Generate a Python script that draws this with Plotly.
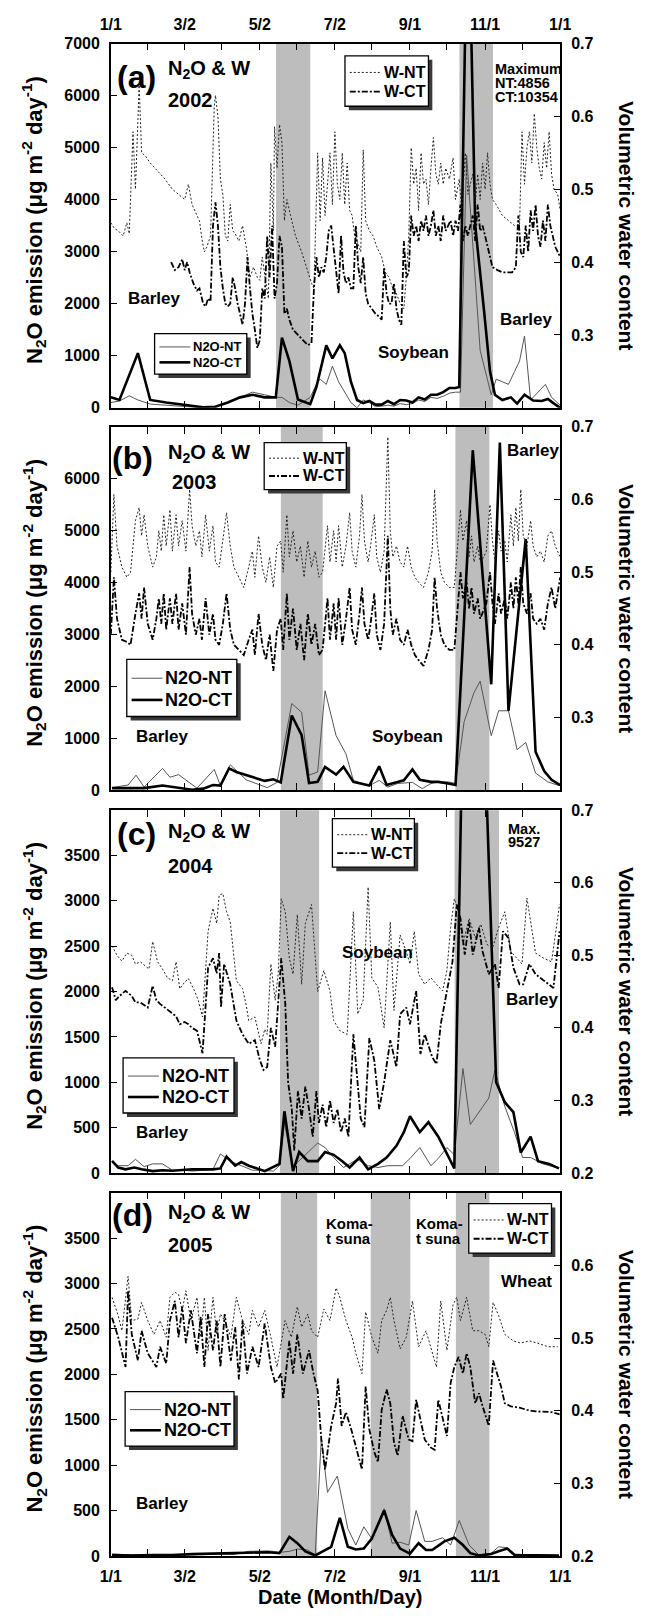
import plotly.graph_objects as go

# ---------------- data (day of year, 0 = Jan 1) ----------------
# Panel (a) 2002
a_wnt_days = [0,3,6,10,13,15,18,20,23,25,28,32,38,44,50,55,60,63,66,70,72,74,76,78,81,84,85,87,89,91,93,95,97,99,101,104,107,110,113,116,119,121,123,126,128,130,132,133,135,137,139,141,143,146,150,155,160,163,165,168,170,172,174,176,178,180,182,184,186,188,190,192,194,196,198,200,203,205,207,210,213,216,220,223,226,229,232,235,238,240,242,244,246,248,250,252,254,256,258,260,262,264,266,268,270,272,275,278,280,283,285,288,290,292,294,296,298,300,302,304,306,308,310,313,318,323,328,332,334,336,338,340,342,344,346,348,350,352,354,356,358,360,363,365]
a_wnt = [0.454,0.446,0.443,0.436,0.454,0.439,0.579,0.500,0.643,0.550,0.546,0.536,0.525,0.514,0.500,0.493,0.486,0.507,0.479,0.464,0.457,0.432,0.414,0.421,0.436,0.614,0.629,0.600,0.514,0.493,0.436,0.429,0.479,0.443,0.439,0.429,0.450,0.421,0.379,0.393,0.379,0.375,0.407,0.371,0.350,0.536,0.443,0.586,0.529,0.589,0.564,0.457,0.486,0.464,0.436,0.414,0.386,0.371,0.364,0.550,0.457,0.543,0.464,0.514,0.550,0.479,0.579,0.507,0.486,0.550,0.479,0.536,0.471,0.464,0.436,0.429,0.414,0.554,0.457,0.443,0.436,0.421,0.407,0.386,0.379,0.364,0.357,0.343,0.336,0.379,0.436,0.557,0.507,0.529,0.471,0.550,0.507,0.514,0.479,0.529,0.571,0.521,0.507,0.536,0.507,0.529,0.514,0.543,0.486,0.514,0.471,0.550,0.493,0.507,0.521,0.479,0.521,0.486,0.536,0.500,0.550,0.507,0.486,0.479,0.464,0.457,0.450,0.450,0.579,0.507,0.557,0.579,0.536,0.604,0.557,0.529,0.514,0.564,0.529,0.579,0.521,0.500,0.493,0.471]
a_wct_days = [49,52,55,58,60,62,64,67,70,72,75,77,79,81,83,84,85,87,89,91,93,95,97,99,101,103,105,107,109,111,113,115,117,119,121,123,125,127,129,131,133,135,137,139,141,143,145,148,152,156,160,163,165,167,169,171,173,175,177,179,181,183,185,187,189,191,193,195,197,199,201,203,205,207,209,212,215,218,220,222,224,226,228,230,232,234,236,238,240,242,244,246,248,250,252,254,256,258,260,262,264,266,268,270,272,274,276,278,280,282,284,286,288,290,292,294,296,298,300,302,304,306,308,310,314,318,322,326,329,331,333,335,337,339,341,343,345,347,349,351,353,355,357,359,361,363,365]
a_wct = [0.400,0.389,0.393,0.404,0.389,0.400,0.386,0.371,0.361,0.364,0.343,0.339,0.350,0.346,0.450,0.471,0.482,0.450,0.393,0.364,0.343,0.339,0.343,0.379,0.364,0.343,0.329,0.314,0.343,0.407,0.364,0.329,0.307,0.282,0.293,0.364,0.350,0.436,0.379,0.450,0.350,0.371,0.436,0.421,0.329,0.336,0.321,0.307,0.300,0.293,0.286,0.289,0.364,0.407,0.379,0.393,0.386,0.407,0.443,0.450,0.421,0.386,0.357,0.436,0.386,0.371,0.379,0.364,0.364,0.450,0.393,0.371,0.407,0.357,0.343,0.336,0.329,0.325,0.321,0.393,0.357,0.343,0.343,0.371,0.336,0.321,0.314,0.429,0.379,0.386,0.464,0.436,0.450,0.429,0.457,0.443,0.464,0.436,0.450,0.471,0.436,0.450,0.429,0.464,0.443,0.450,0.457,0.436,0.457,0.443,0.479,0.429,0.450,0.436,0.450,0.464,0.429,0.479,0.443,0.450,0.436,0.421,0.407,0.393,0.389,0.386,0.386,0.386,0.393,0.464,0.414,0.407,0.450,0.414,0.471,0.443,0.479,0.436,0.421,0.457,0.429,0.479,0.450,0.436,0.421,0.414,0.407]
a_nt_days = [0,7,15,22,32,45,60,75,85,95,105,115,125,134,139,145,152,162,167,170,175,180,185,190,195,200,205,210,215,220,225,230,235,240,245,250,255,260,265,270,275,280,284,289,300,309,313,318,323,328,332,336,341,347,353,358,365]
a_nt = [100,130,230,150,70,50,30,0,30,100,200,300,250,200,200,100,50,200,450,550,450,800,500,300,100,0,150,100,20,30,50,30,80,60,80,150,120,200,180,220,280,300,300,4856,1100,250,550,500,450,700,900,1380,150,300,450,200,50]
a_ct_days = [0,7,22,32,45,60,75,85,95,105,115,125,134,139,145,152,162,167,175,180,186,190,195,200,205,210,215,220,225,230,235,240,245,250,255,260,265,270,275,280,283,290,296,303,308,312,318,325,330,336,343,350,355,360,365]
a_ct = [200,150,1050,150,100,60,10,20,100,200,250,200,200,1350,900,160,70,400,1200,950,1200,1050,500,150,90,130,60,60,130,70,150,140,100,200,160,250,250,300,380,380,400,10354,3500,1900,700,250,150,200,80,250,140,130,170,80,0]

# Panel (b) 2003
b_w_days = [0,2.5,5,9,13,16,20,23,25,27,30,34,37,39,41,43,45,48,50,53,55,58,61,64,66,69,72,74,77,80,83,85,88,91,94,97,100,104,108,112,115,117,120,123,126,129,132,135,138,140,143,145,148,151,154,157,160,163,166,169,172,176,178,181,183,185,188,191,194,196,199,202,204,206,209,211,214,216,219,222,225,227,229,232,235,238,241,244,247,250,254,258,261,263,265,268,271,275,279,282,284,286,289,291,293,295,298,300,303,305,308,310,312,315,317,320,322,325,327,329,331,333,335,338,341,343,346,349,352,355,358,361,365]
b_wnt = [0.500,0.607,0.536,0.507,0.493,0.500,0.571,0.589,0.550,0.579,0.536,0.507,0.521,0.557,0.529,0.579,0.536,0.586,0.529,0.579,0.536,0.571,0.529,0.614,0.564,0.536,0.557,0.521,0.579,0.529,0.564,0.514,0.507,0.543,0.582,0.536,0.507,0.493,0.479,0.507,0.529,0.493,0.550,0.507,0.486,0.521,0.479,0.536,0.543,0.500,0.579,0.521,0.557,0.514,0.536,0.493,0.543,0.507,0.529,0.493,0.500,0.564,0.514,0.557,0.514,0.564,0.507,0.536,0.582,0.529,0.507,0.550,0.607,0.543,0.514,0.536,0.579,0.521,0.500,0.529,0.686,0.557,0.521,0.536,0.514,0.507,0.536,0.507,0.493,0.486,0.479,0.500,0.529,0.614,0.543,0.500,0.486,0.479,0.479,0.543,0.586,0.543,0.571,0.521,0.550,0.514,0.536,0.514,0.521,0.529,0.593,0.543,0.514,0.557,0.529,0.543,0.514,0.579,0.536,0.589,0.543,0.614,0.550,0.536,0.571,0.536,0.521,0.529,0.514,0.550,0.557,0.536,0.521]
b_wct = [0.414,0.493,0.436,0.407,0.404,0.400,0.443,0.471,0.436,0.479,0.429,0.407,0.436,0.464,0.429,0.471,0.421,0.464,0.429,0.471,0.421,0.457,0.414,0.507,0.443,0.414,0.436,0.407,0.464,0.414,0.443,0.407,0.400,0.429,0.471,0.421,0.400,0.393,0.386,0.407,0.421,0.386,0.443,0.400,0.379,0.414,0.364,0.421,0.436,0.393,0.471,0.407,0.450,0.393,0.429,0.379,0.443,0.400,0.429,0.386,0.393,0.464,0.407,0.457,0.407,0.464,0.400,0.436,0.479,0.421,0.400,0.443,0.479,0.429,0.407,0.429,0.471,0.414,0.393,0.429,0.550,0.450,0.414,0.436,0.407,0.400,0.421,0.400,0.386,0.379,0.371,0.393,0.421,0.493,0.450,0.414,0.400,0.393,0.393,0.457,0.500,0.464,0.486,0.450,0.479,0.443,0.464,0.436,0.450,0.457,0.500,0.457,0.429,0.471,0.443,0.464,0.436,0.486,0.450,0.493,0.457,0.507,0.457,0.443,0.471,0.436,0.429,0.436,0.421,0.457,0.479,0.450,0.493]
b_nt_days = [1,14,20.5,27,42,48,55,70,84,89,97,110,127,135,147,155,161,168,174,183,191,197,210,218,225,233,245,253,260,266,274,280,287,295,300,309,315,323,330,337,345,355,364]
b_nt = [50,100,290,60,420,250,300,40,400,90,490,200,50,150,1670,1500,290,350,1915,1050,700,190,90,190,60,130,150,30,130,160,160,130,1320,1880,2100,1050,1530,1530,780,920,330,160,90]
b_ct_days = [1,27,42,56,66,75,83,89,96,102,115,125,132,138,147,155,161,168,174,183,189,197,210,218,224,232,238,245,251,260,266,274,280,294,309,316,323,337,345,352,358,365]
b_ct = [40,40,90,40,10,30,100,90,420,350,250,180,210,150,1440,1060,140,160,450,300,450,160,90,460,100,150,190,400,200,160,160,130,100,6550,2040,6700,1530,4840,740,370,200,100]

# Panel (c) 2004
c_wnt_days = [1,5,9,13,17,20,24,28,31,34,38,42,46,50,53,56,60,63,68,71,74.5,79,83,86,88,91,94,97,102,107,110,112,117,122,125,127,130,133.5,136,138.4,141.7,145,148,151.5,155,158,163,168,173,178,181,186,192,197,200.6,205,209,212,217,222,227,230,235,240,243,246.5,250,255,260,264.5,269.5,273,276,279,282.5,286,291,296,300.5,305.5,310,315,320,325,330,334,338,341.5,345,351.5,358,364.5]
c_wnt = [0.513,0.500,0.492,0.503,0.500,0.488,0.491,0.485,0.481,0.519,0.491,0.481,0.469,0.465,0.491,0.454,0.463,0.468,0.451,0.438,0.415,0.533,0.565,0.544,0.583,0.585,0.560,0.546,0.465,0.454,0.431,0.410,0.415,0.378,0.398,0.391,0.488,0.438,0.475,0.578,0.560,0.496,0.474,0.556,0.460,0.544,0.570,0.450,0.479,0.451,0.410,0.396,0.391,0.560,0.419,0.438,0.594,0.469,0.456,0.400,0.546,0.424,0.528,0.505,0.488,0.533,0.474,0.460,0.469,0.460,0.451,0.479,0.538,0.578,0.560,0.515,0.551,0.524,0.543,0.515,0.510,0.538,0.560,0.505,0.496,0.488,0.579,0.538,0.503,0.496,0.491,0.570]
c_wct_days = [1,4,7,12,17,20,24,30,34,37,40,47,50,53,56,60,63,66,70,74.5,79,83,86,88,89.5,92,97,102,107,112,117,121,124,127,130,133.5,138.4,141.7,144,147,149,152,155,158,161,164,167,169,172,175,178,181,184,187,190,193,197,200,203,206,210,214,218,222,227,232,235,240,243,248,251.5,255,261,264.5,268,273,277.5,281,284,287.5,291,294,299,302,307,312,315,318.5,323,327,332,335,340,345,351.5,359.5,364.5]
c_wct = [0.456,0.438,0.444,0.451,0.444,0.435,0.435,0.428,0.458,0.438,0.433,0.424,0.419,0.416,0.405,0.408,0.405,0.400,0.396,0.365,0.483,0.496,0.475,0.503,0.428,0.488,0.460,0.410,0.391,0.378,0.383,0.356,0.342,0.346,0.400,0.374,0.496,0.433,0.325,0.288,0.231,0.313,0.275,0.319,0.288,0.250,0.313,0.269,0.294,0.263,0.300,0.269,0.288,0.256,0.275,0.250,0.391,0.338,0.275,0.263,0.386,0.355,0.288,0.325,0.383,0.346,0.419,0.428,0.405,0.451,0.364,0.391,0.360,0.350,0.405,0.451,0.491,0.570,0.551,0.501,0.546,0.501,0.538,0.505,0.474,0.488,0.455,0.533,0.524,0.483,0.460,0.460,0.488,0.474,0.465,0.455,0.533]
c_nt_days = [1,6,14,20,27,34,42,50,60,66,83,89,97,106,115,122,132,137,141,148,168,174,181,189,200,209,217,225,237,243,251,260,266,273,279,286,292,307,312,320,328,334.5,341,351,364]
c_nt = [116,80,80,150,70,100,100,30,30,20,40,210,130,80,30,30,20,80,550,70,330,280,170,60,150,80,60,80,80,160,280,80,160,280,200,1152,534,825,1135,734,443,170,170,100,50]
c_ct_days = [1,6,12,19,25,34,42,50,66,83,89,94,101,106,112,125,137,141,148,153,160,168,174,181,188,194,202,209,217,224,232,238,243,251,258,266,279,292,313,320,327,333,341,347,356,364]
c_ct = [134,60,40,60,40,20,30,25,40,40,50,180,80,120,80,20,100,680,20,230,130,130,230,200,130,60,170,40,100,170,300,450,625,450,560,400,50,9527,1000,780,670,225,400,130,100,50]

# Panel (d) 2005
d_wnt_days = [1,6,9,14,17,22,25,30,35,40,45,48,52,55,58,61,65,70,73,76,79,83,86,89,92.5,97.5,102,107,112,115,120,125,130,135,141.5,146.6,151.5,155,160,163,168,173,178,183,186,191,196,199,204,207,212,217,220,224,227,230,235,240,245,250,256,261,264.5,268,273,278,281,284,289,294,299,304,307,310.5,315,320,327,333,340,346.5,355,363]
d_wnt = [0.556,0.531,0.510,0.585,0.524,0.526,0.549,0.524,0.505,0.524,0.501,0.556,0.563,0.560,0.538,0.565,0.524,0.556,0.501,0.556,0.483,0.556,0.505,0.533,0.524,0.501,0.556,0.524,0.505,0.538,0.515,0.538,0.501,0.460,0.524,0.501,0.543,0.515,0.533,0.510,0.501,0.540,0.524,0.569,0.556,0.524,0.501,0.479,0.451,0.536,0.501,0.479,0.524,0.538,0.556,0.524,0.485,0.501,0.551,0.488,0.510,0.479,0.460,0.551,0.483,0.546,0.556,0.524,0.556,0.510,0.510,0.505,0.488,0.549,0.531,0.505,0.496,0.493,0.496,0.493,0.488,0.488]
d_wct_days = [1,6,12,14,17,22,25,30,37,40,45,48,52,55,58,61,65,70,73,76,79,83,86,89,92.5,97.5,101,104,107,110.6,115,120,125,130,133.5,138.4,140,143,145,148,151.5,156,161,164.6,168,171,174,179,183,184.5,187.5,191,196,201,204,207,210,214,217,220,224,227,230,233,237,242,245,248,251.5,255,260,263,266,269.5,273,276,279,282.5,286,289,292,296,299,302,307,310.5,314,317,320,325,332,338,345,351.5,358,364.5]
d_wct = [0.528,0.501,0.460,0.565,0.505,0.469,0.510,0.479,0.460,0.488,0.465,0.524,0.551,0.501,0.543,0.493,0.538,0.479,0.529,0.460,0.533,0.483,0.524,0.460,0.533,0.469,0.515,0.443,0.524,0.451,0.488,0.460,0.520,0.460,0.438,0.451,0.416,0.463,0.496,0.451,0.505,0.451,0.483,0.451,0.428,0.360,0.319,0.379,0.410,0.444,0.379,0.398,0.370,0.338,0.319,0.433,0.374,0.343,0.329,0.401,0.429,0.410,0.356,0.338,0.393,0.360,0.358,0.415,0.388,0.360,0.349,0.346,0.415,0.388,0.365,0.438,0.460,0.474,0.451,0.479,0.460,0.410,0.424,0.406,0.379,0.469,0.451,0.433,0.410,0.406,0.404,0.401,0.399,0.398,0.398,0.395]
d_nt_days = [1,20,40,60,80,100,112,128,138,145,151.5,160,166,171,176,184,192.5,199,205.5,212,222,228.5,235,242,248,255,261,269.5,276,283,291,299,309,315,322,328,341,364]
d_nt = [20,10,15,10,20,15,50,55,40,50,75,65,10,1300,700,880,300,120,320,190,520,140,150,120,500,160,160,200,120,390,120,10,30,100,90,20,10,5]
d_ct_days = [1,17,34,50,66,83,99,115,128,137,145,151.5,158,166,173,179,186,192.5,199,205.5,212,222,228.5,235,243,250,256,261,271,279,286,292,299,309,315,322,328,338,348,364]
d_ct = [10,5,10,10,20,25,30,35,40,30,210,140,50,5,60,100,420,100,70,80,190,500,230,80,25,140,65,65,160,200,120,30,5,20,50,80,10,10,5,5]

# shaded periods (day ranges)
a_shade = [(134.2, 162.0), (283.2, 310.4)]
b_shade = [(138.1, 172.1), (279.9, 307.5)]
c_shade = [(137.4, 169.2), (279.3, 315.3)]
d_shade = [(138.1, 167.6), (211.1, 243.3), (280.3, 307.5)]

x_tickvals = [0, 30, 60, 90, 121, 151, 182, 212, 243, 273, 304, 334, 365]
x_ticktext = ["1/1", "", "3/2", "", "5/2", "", "7/2", "", "9/1", "", "11/1", "", "1/1"]

# ---------------- layout geometry ----------------
FIG_W, FIG_H = 654, 1621
PLOT_L, PLOT_R = 103.3, 568.3
PANEL_TB = [(36.0, 404.0), (423.3, 790.5), (810.7, 1177.3), (1197.3, 1564.3)]
FONT = "Liberation Sans, Arial, Helvetica, sans-serif"

STYLE = {
    "N2O-NT": dict(color="#555555", width=1),
    "N2O-CT": dict(color="black", width=2.6),
    "W-NT": dict(color="#222222", width=1, dash="2px,2px"),
    "W-CT": dict(color="black", width=1.8, dash="6px,2px,2px,2px"),
}


def px(x):
    return x / FIG_W


def py(y):
    return 1 - y / FIG_H


panels = [
    dict(wnt=(a_wnt_days, a_wnt), wct=(a_wct_days, a_wct), nt=(a_nt_days, a_nt), ct=(a_ct_days, a_ct),
         shade=a_shade, lmax=7000, lticks=list(range(0, 7001, 1000)),
         rticks=[0.2, 0.3, 0.4, 0.5, 0.6, 0.7], rtext=["", "0.3", "0.4", "0.5", "0.6", "0.7"],
         legW=(345.6, 48.3, 432.0, 99.3, 16), legN=(148.6, 329.0, 244.0, 370.0, 13)),
    dict(wnt=(b_w_days, b_wnt), wct=(b_w_days, b_wct), nt=(b_nt_days, b_nt), ct=(b_ct_days, b_ct),
         shade=b_shade, lmax=7000, lticks=list(range(0, 6001, 1000)),
         rticks=[0.2, 0.3, 0.4, 0.5, 0.6, 0.7], rtext=["", "0.3", "0.4", "0.5", "0.6", "0.7"],
         legW=(262.0, 439.3, 347.0, 486.7, 16), legN=(119.8, 658.3, 233.7, 716.0, 18)),
    dict(wnt=(c_wnt_days, c_wnt), wct=(c_wct_days, c_wct), nt=(c_nt_days, c_nt), ct=(c_ct_days, c_ct),
         shade=c_shade, lmax=4000, lticks=list(range(0, 3501, 500)),
         rticks=[0.2, 0.3, 0.4, 0.5, 0.6, 0.7], rtext=["0.2", "0.3", "0.4", "0.5", "0.6", "0.7"],
         legW=(332.6, 819.3, 417.4, 868.3, 16), legN=(116.0, 1061.0, 230.8, 1116.7, 18)),
    dict(wnt=(d_wnt_days, d_wnt), wct=(d_wct_days, d_wct), nt=(d_nt_days, d_nt), ct=(d_ct_days, d_ct),
         shade=d_shade, lmax=4000, lticks=list(range(0, 3501, 500)),
         rticks=[0.2, 0.3, 0.4, 0.5, 0.6, 0.7], rtext=["0.2", "0.3", "0.4", "0.5", "0.6", ""],
         legW=(473.7, 1208.3, 559.3, 1258.3, 16), legN=(118.1, 1398.3, 230.8, 1453.3, 18)),
]

fig = go.Figure()
shapes = []
annotations = []
layout = {}
tickfont = dict(family=FONT, size=16, color="black", weight="bold")


def ann(text, x, y, size, xanchor="left", angle=0):
    annotations.append(dict(text=f"<b>{text}</b>", x=px(x), y=py(y), xref="paper", yref="paper",
                            xanchor=xanchor, yanchor="middle", showarrow=False, textangle=angle,
                            font=dict(family=FONT, size=size, color="black")))


def legend_box(box, names):
    l, t, r, b, fs = box
    shapes.append(dict(type="rect", xref="paper", yref="paper", x0=px(l + 4), x1=px(r + 4),
                       y0=py(b + 4), y1=py(t + 4), fillcolor="#3a3a3a", line=dict(width=0), layer="above"))
    shapes.append(dict(type="rect", xref="paper", yref="paper", x0=px(l), x1=px(r),
                       y0=py(b), y1=py(t), fillcolor="white", line=dict(color="black", width=1.3), layer="above"))
    for k, name in enumerate(names):
        yy = t + (b - t) * (0.33 if k == 0 else 0.71)
        st = STYLE[name]
        shapes.append(dict(type="line", xref="paper", yref="paper", x0=px(l + 5), x1=px(l + 37),
                           y0=py(yy), y1=py(yy), layer="above",
                           line=dict(color=st["color"], width=st["width"], dash=st.get("dash", "solid"))))
        ann(name, l + 38, yy, fs, "left")


for i, p in enumerate(panels):
    n = i + 1
    xa = "x" if n == 1 else f"x{n}"
    ya = "y" if n == 1 else f"y{n}"
    yr = f"y{n + 4}"

    for name, key, yax in (("N2O-NT", "nt", ya), ("N2O-CT", "ct", ya), ("W-NT", "wnt", yr), ("W-CT", "wct", yr)):
        fig.add_trace(go.Scatter(x=p[key][0], y=p[key][1], mode="lines", name=name,
                                 line=STYLE[name], xaxis=xa, yaxis=yax, showlegend=False))

    top, bot = PANEL_TB[i]
    xkey = "xaxis" if n == 1 else f"xaxis{n}"
    ykey = "yaxis" if n == 1 else f"yaxis{n}"
    layout[xkey] = dict(
        domain=[px(PLOT_L), px(PLOT_R)], anchor=ya, range=[0, 365],
        tickvals=x_tickvals, ticktext=x_ticktext, ticks="inside", ticklen=7, tickwidth=1.2, tickcolor="black",
        showline=True, linecolor="black", linewidth=1.5, mirror="ticks", showgrid=False, zeroline=False,
        tickfont=tickfont, ticklabelstandoff=5,
        side="top" if n == 1 else "bottom", showticklabels=(n in (1, 4)))
    layout[ykey] = dict(
        domain=[py(bot), py(top)], anchor=xa, range=[0, p["lmax"]],
        tickvals=p["lticks"], ticktext=[str(v) for v in p["lticks"]],
        ticks="inside", ticklen=6, tickwidth=1.2, tickcolor="black",
        showline=True, linecolor="black", linewidth=1.5, showgrid=False, zeroline=False,
        tickfont=tickfont, ticklabelstandoff=6)
    layout[f"yaxis{n + 4}"] = dict(
        overlaying=ya, side="right", anchor=xa, range=[0.2, 0.7],
        tickvals=p["rticks"], ticktext=p["rtext"],
        ticks="inside", ticklen=6, tickwidth=1.2, tickcolor="black",
        showline=True, linecolor="black", linewidth=1.5, showgrid=False, zeroline=False,
        tickfont=tickfont, ticklabelstandoff=6)

    for (s0, s1) in p["shade"]:
        shapes.append(dict(type="rect", xref=xa, yref=f"{ya} domain", x0=s0, x1=s1, y0=0, y1=1,
                           fillcolor="#bdbdbd", line=dict(width=0), layer="below"))

    legend_box(p["legW"], ["W-NT", "W-CT"])
    legend_box(p["legN"], ["N2O-NT", "N2O-CT"])

labels = [
    ("(a)", 130, 70, 32, "center"), ("N<sub>2</sub>O &amp; W", 160.7, 61.7, 20, "left"), ("2002", 160.7, 93.3, 20, "left"),
    ("Maximum", 498.7, 61.7, 14.5, "left"), ("NT:4856", 498.7, 76.0, 14.5, "left"), ("CT:10354", 498.7, 90.3, 14.5, "left"),
    ("Barley", 119, 293.3, 17, "left"), ("Soybean", 377.7, 348.3, 17, "left"), ("Barley", 503.8, 315.0, 17, "left"),
    ("(b)", 126, 455, 32, "center"), ("N<sub>2</sub>O &amp; W", 160.7, 450.0, 20, "left"), ("2003", 164.9, 479.0, 20, "left"),
    ("Barley", 511, 446.7, 17, "left"), ("Barley", 127.3, 736.7, 17, "left"), ("Soybean", 371.5, 736.7, 17, "left"),
    ("(c)", 129.4, 835, 32, "center"), ("N<sub>2</sub>O &amp; W", 160.7, 833.3, 20, "left"), ("2004", 160.7, 866.7, 20, "left"),
    ("Max.", 512.5, 829.3, 14.5, "left"), ("9527", 512.5, 843.0, 14.5, "left"),
    ("Soybean", 340, 955.0, 17, "left"), ("Barley", 510, 1001.7, 17, "left"), ("Barley", 127.3, 1136.7, 17, "left"),
    ("(d)", 126, 1220, 32, "center"), ("N<sub>2</sub>O &amp; W", 160.7, 1218.3, 20, "left"), ("2005", 160.7, 1250.0, 20, "left"),
    ("Koma-", 323.5, 1228.3, 15, "left"), ("t suna", 323.5, 1243.3, 15, "left"),
    ("Koma-", 417.4, 1228.3, 15, "left"), ("t suna", 417.4, 1243.3, 15, "left"),
    ("Wheat", 505, 1286.7, 17, "left"), ("Barley", 127.3, 1511.7, 17, "left"),
]
for t, x, y, s, a in labels:
    ann(t, x, y, s, a)

for top, bot in PANEL_TB:
    mid = (top + bot) / 2
    ann("N<sub>2</sub>O emission (μg m<sup>-2</sup> day<sup>-1</sup>)", 24, mid - 6, 22, "center", -90)
    ann("Volumetric water content", 637, mid, 21, "center", 90)

ann("Date (Month/Day)", 340, 1606, 20, "center")

fig.update_layout(
    width=FIG_W, height=FIG_H, margin=dict(l=0, r=0, t=0, b=0),
    paper_bgcolor="white", plot_bgcolor="white", showlegend=False, hovermode=False,
    shapes=shapes, annotations=annotations, **layout)

fig.write_html("out.html", config={"displayModeBar": False},
               post_script="document.body.style.margin='0px';")
